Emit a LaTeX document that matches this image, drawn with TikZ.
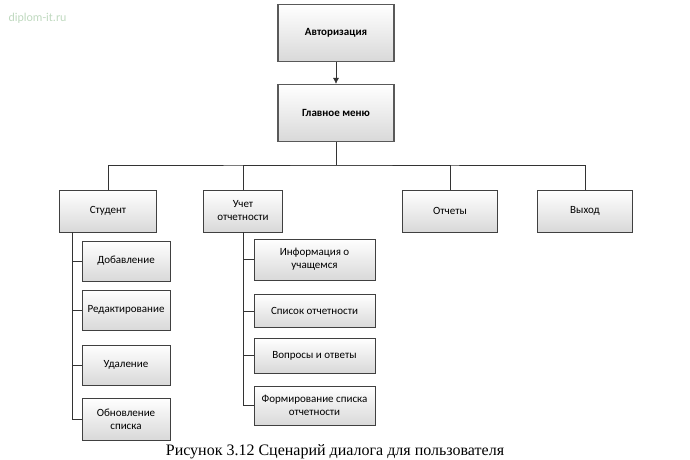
\documentclass[tikz,border=0pt]{standalone}
\usepackage{fontspec}
\usetikzlibrary{arrows.meta}
\setmainfont{Carlito}
\newfontfamily\capfont{Liberation Serif}
\begin{document}
\begin{tikzpicture}[x=1pt,y=-1pt,
 box/.style={draw=black!75,line width=0.6pt,top color=white,bottom color=black!15,align=center,font=\fontsize{11}{13}\selectfont,inner sep=1pt},
 dbox/.style={box,line width=1.2pt,draw=black!65,font=\bfseries\fontsize{11}{13}\selectfont,
   append after command={\pgfextra{\draw[black!70,line width=0.6pt] ([shift={(3pt,-3pt)}]\tikzlastnode.north west) rectangle ([shift={(-3pt,3pt)}]\tikzlastnode.south east);}}},
 ln/.style={draw=black!80,line width=0.6pt}]
\useasboundingbox (0,0) rectangle (690,460);
\node[font=\fontsize{12}{14}\selectfont,text=green!40!black!25,anchor=west] (wm) at (5,18) {diplom-it.ru};
\node[dbox,minimum width=116pt,minimum height=57pt] (auth) at (336,33) {Авторизация};
\node[dbox,minimum width=116pt,minimum height=57pt] (menu) at (336,113) {Главное меню};
\node[box,minimum width=97pt,minimum height=42pt] (st) at (108,211) {Студент};
\node[box,minimum width=79pt,minimum height=42pt] (uch) at (243,211) {Учет\\отчетности};
\node[box,minimum width=95pt,minimum height=42pt] (otc) at (450,211) {Отчеты};
\node[box,minimum width=95pt,minimum height=42pt] (vyh) at (585,211) {Выход};
\node[box,minimum width=88pt,minimum height=40pt] (s1) at (126,261) {Добавление};
\node[box,minimum width=88pt,minimum height=40pt] (s2) at (126,310) {Редактирование};
\node[box,minimum width=88pt,minimum height=40pt] (s3) at (126,365) {Удаление};
\node[box,minimum width=88pt,minimum height=42pt] (s4) at (126,419) {Обновление\\списка};
\node[box,minimum width=121pt,minimum height=41pt] (u1) at (314.5,259.5) {Информация о\\учащемся};
\node[box,minimum width=121pt,minimum height=33pt] (u2) at (314.5,311) {Список отчетности};
\node[box,minimum width=121pt,minimum height=35pt] (u3) at (314.5,355.5) {Вопросы и ответы};
\node[box,minimum width=121pt,minimum height=39pt] (u4) at (314.5,405.5) {Формирование списка\\отчетности};
\draw[ln,-{Latex[length=6pt,width=6pt]}] (auth) -- (menu);
\coordinate (bus) at (336,165);
\draw[ln] (menu.south) -- (bus);
\draw[ln] (st.north) |- (bus) -| (vyh.north);
\draw[ln] (uch.north) |- (bus) -| (otc.north);
\draw[ln] (st.south -| 72,0) |- (s4.west);
\foreach \n in {s1,s2,s3} \draw[ln] (72,0 |- \n.west) -- (\n.west);
\draw[ln] (uch.south) |- (u4.west);
\foreach \n in {u1,u2,u3} \draw[ln] (243,0 |- \n.west) -- (\n.west);
\node[font=\capfont\fontsize{16}{18}\selectfont] (cap) at (335,452) {Рисунок 3.12 Сценарий диалога для пользователя};
\end{tikzpicture}
\end{document}
